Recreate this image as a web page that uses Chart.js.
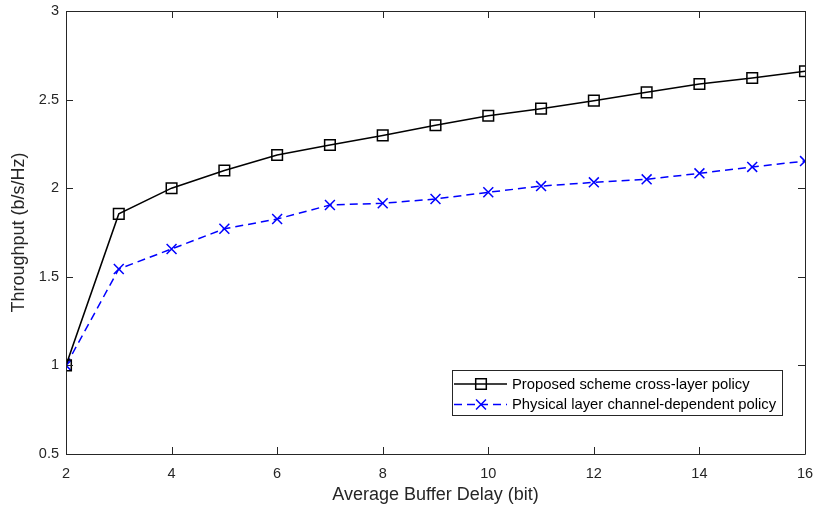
<!DOCTYPE html>
<html>
<head>
<meta charset="utf-8">
<script src="https://cdn.jsdelivr.net/npm/chart.js@4.4.1/dist/chart.umd.min.js"></script>
<style>
  html, body { margin: 0; padding: 0; background: #fff; }
  #wrap { width: 814px; height: 510px; position: relative; }
</style>
</head>
<body>
<div id="wrap"><canvas id="chart" width="814" height="510"></canvas></div>
<script>
// Buffer delay values (x axis) and throughput for each policy
const delays = [2, 3, 4, 5, 6, 7, 8, 9, 10, 11, 12, 13, 14, 15, 16];
const proposedThroughput = [1.0, 1.855, 2.0, 2.10, 2.187, 2.244, 2.298, 2.355, 2.409, 2.449, 2.494, 2.541, 2.588, 2.622, 2.66];
const physicalThroughput = [1.0, 1.544, 1.657, 1.771, 1.826, 1.905, 1.915, 1.939, 1.977, 2.012, 2.033, 2.05, 2.084, 2.12, 2.153];
const seriesLabels = ['Proposed scheme cross-layer policy', 'Physical layer channel-dependent policy'];
const xTicks = [2, 4, 6, 8, 10, 12, 14, 16];
const yTicks = [0.5, 1, 1.5, 2, 2.5, 3];

const axisColor = '#262626';
const fontFamily = '"Liberation Sans", Arial, Helvetica, sans-serif';

// drop the label-overflow padding so the layout padding alone sets the plot box
function noOverflow(s) {
  s.paddingTop = 0; s.paddingBottom = 0; s.paddingLeft = 0; s.paddingRight = 0;
}

// MATLAB-like box with inward ticks, plus legend inside the axes
const matlabAxes = {
  id: 'matlabAxes',
  afterDatasetsDraw(chart) {
    const ctx = chart.ctx;
    const area = chart.chartArea;
    const xs = chart.scales.x, ys = chart.scales.y;
    const tl = 7;
    ctx.save();
    ctx.strokeStyle = axisColor;
    ctx.lineWidth = 1;
    ctx.beginPath();
    ctx.rect(Math.round(area.left) + 0.5, Math.round(area.top) + 0.5,
             Math.round(area.right - area.left), Math.round(area.bottom - area.top));
    xTicks.forEach(v => {
      const px = Math.round(xs.getPixelForValue(v)) + 0.5;
      ctx.moveTo(px, area.bottom); ctx.lineTo(px, area.bottom - tl);
      ctx.moveTo(px, area.top); ctx.lineTo(px, area.top + tl);
    });
    yTicks.forEach(v => {
      const py = Math.round(ys.getPixelForValue(v)) + 0.5;
      ctx.moveTo(area.left, py); ctx.lineTo(area.left + tl, py);
      ctx.moveTo(area.right, py); ctx.lineTo(area.right - tl, py);
    });
    ctx.stroke();

    // legend
    const box = { x: 452.5, y: 370.5, w: 330, h: 45 };
    ctx.fillStyle = '#fff';
    ctx.fillRect(box.x, box.y, box.w, box.h);
    ctx.strokeStyle = axisColor;
    ctx.strokeRect(box.x, box.y, box.w, box.h);
    const rows = [384, 404.5];
    chart.data.datasets.forEach((ds, i) => {
      const y = rows[i];
      ctx.save();
      ctx.strokeStyle = ds.borderColor;
      ctx.lineWidth = ds.borderWidth;
      ctx.setLineDash(ds.borderDash || []);
      ctx.beginPath();
      ctx.moveTo(454, y); ctx.lineTo(507, y);
      ctx.stroke();
      ctx.setLineDash([]);
      ctx.fillStyle = 'rgba(0,0,0,0)';
      ctx.lineWidth = ds.pointBorderWidth;
      Chart.helpers.drawPoint(ctx, {
        pointStyle: ds.pointStyle, radius: ds.pointRadius, borderWidth: ds.pointBorderWidth
      }, 481, y);
      ctx.restore();
      ctx.fillStyle = '#000';
      ctx.font = '14.8px ' + fontFamily;
      ctx.textBaseline = 'middle';
      ctx.fillText(ds.label, 512, y + 0.5);
    });
    ctx.restore();
  }
};

new Chart(document.getElementById('chart'), {
  type: 'line',
  data: {
    datasets: [
      {
        label: seriesLabels[0],
        data: delays.map((d, i) => ({ x: d, y: proposedThroughput[i] })),
        borderColor: '#000000',
        backgroundColor: 'rgba(255,255,255,0)',
        borderWidth: 1.5,
        pointStyle: 'rect',
        pointRadius: 7.5,
        pointBorderWidth: 1.5,
        pointBackgroundColor: 'rgba(255,255,255,0)',
        pointBorderColor: '#000000',
        tension: 0
      },
      {
        label: seriesLabels[1],
        data: delays.map((d, i) => ({ x: d, y: physicalThroughput[i] })),
        borderColor: '#0000ff',
        backgroundColor: 'rgba(255,255,255,0)',
        borderWidth: 1.5,
        borderDash: [8, 5],
        pointStyle: 'crossRot',
        pointRadius: 7,
        pointBorderWidth: 1.5,
        pointBorderColor: '#0000ff',
        tension: 0
      }
    ]
  },
  options: {
    responsive: false,
    animation: false,
    layout: { padding: { top: 11, right: 9, left: 0, bottom: 0 } },
    plugins: {
      legend: { display: false },
      tooltip: { enabled: false }
    },
    scales: {
      x: {
        type: 'linear',
        min: 2, max: 16,
        afterBuildTicks: s => { s.ticks = xTicks.map(v => ({ value: v })); },
        afterFit: s => { s.height = 56; noOverflow(s); },
        grid: { display: false, drawTicks: false },
        border: { display: false },
        ticks: {
          color: axisColor, padding: 11, font: { family: fontFamily, size: 14.5 },
          callback: v => String(v)
        },
        title: {
          display: true, text: 'Average Buffer Delay (bit)', color: axisColor,
          font: { family: fontFamily, size: 18 }, padding: { top: 0, bottom: 4 }
        }
      },
      y: {
        min: 0.5, max: 3,
        afterBuildTicks: s => { s.ticks = yTicks.map(v => ({ value: v })); },
        afterFit: s => { s.width = 66; noOverflow(s); },
        grid: { display: false, drawTicks: false },
        border: { display: false },
        ticks: {
          color: axisColor, padding: 7, font: { family: fontFamily, size: 14.5 },
          callback: v => String(v)
        },
        title: {
          display: true, text: 'Throughput (b/s/Hz)', color: axisColor,
          font: { family: fontFamily, size: 18 }, padding: { top: 8, bottom: 0 }
        }
      }
    }
  },
  plugins: [matlabAxes]
});
</script>
</body>
</html>
